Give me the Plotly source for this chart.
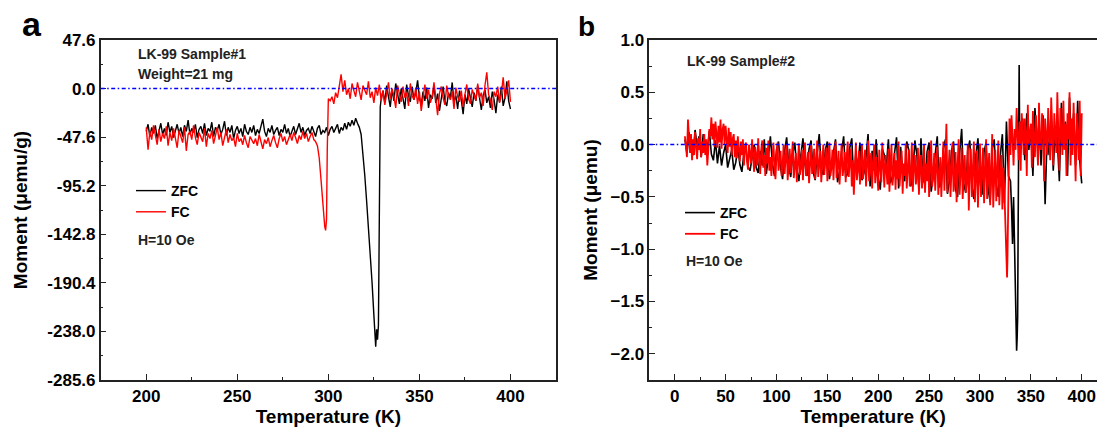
import plotly.graph_objects as go

# ---------------- DATA ----------------
# Panel a (Sample #1), moment in uemu/g
T_A_ZFC_LOW = list(range(200, 318))
M_A_ZFC_LOW = [
    -42, -35, -47, -38, -44, -36, -49, -40, -34, -45,
    -39, -46, -33, -43, -37, -48, -41, -35, -44, -38,
    -47, -36, -42, -31, -45, -39, -43, -35, -48, -40,
    -37, -44, -34, -46, -39, -42, -33, -47, -38, -41,
    -35, -45, -40, -32, -46, -38, -43, -36, -49, -41,
    -37, -44, -39, -47, -35, -42, -45, -38, -43, -36,
    -46, -40, -44, -37, -30, -42, -47, -39, -43, -36,
    -45, -41, -38, -46, -40, -43, -35, -44, -39, -47,
    -42, -37, -45, -40, -34, -43, -38, -46, -41, -39,
    -44, -37, -42, -47, -39, -36, -45, -41, -43, -38,
    -46, -40, -37, -43, -39, -35, -44, -38, -41, -34,
    -40, -33, -37, -31, -36, -29, -34, -38,
]
T_A_ZFC_DIP = [318, 319, 320, 321, 322, 323, 324, 325, 325.5, 326, 326.5, 327, 327.5, 328, 328.5]
M_A_ZFC_DIP = [-45, -62, -85, -110, -135, -160, -190, -222, -240, -253, -236, -246, -232, -110, -18]
T_A_ZFC_HIGH = list(range(329, 401))
M_A_ZFC_HIGH = [
    -10, -2, -14, 3, -8, -18, -1, -12, 5, -6,
    -15, 0, -9, -20, 4, -7, -13, 2, -11, -4,
    8, -9, -16, -3, -12, 1, -19, -6, -10, 3,
    -14, -5, -22, -8, 2, -12, -17, -4, -9, 6,
    -13, -7, -20, -2, -11, -25, -6, -15, 0, -9,
    -18, -4, -12, 3, -10, -21, -7, -1, -14, -8,
    -19, -3, -11, -24, -6, -13, 2, -17, -9, 7,
    -12, -20,
]

T_A_FC_LOW = list(range(200, 293))
M_A_FC_LOW = [
    -38, -60, -42, -50, -36, -47, -55, -40, -52, -44,
    -49, -37, -56, -43, -51, -39, -47, -58, -41, -46,
    -53, -38, -61, -45, -42, -50, -36, -48, -55, -43,
    -47, -52, -39, -57, -44, -49, -41, -54, -46, -38,
    -50, -43, -56, -47, -40, -53, -45, -51, -48, -57,
    -44, -52, -49, -55, -46, -53, -58, -47, -51, -54,
    -49, -56, -45, -52, -59, -50, -54, -48, -57, -51,
    -46, -53, -58, -49, -44, -52, -47, -55, -50, -45,
    -51, -43, -48, -54, -46, -50, -42, -49, -44, -52,
    -47, -43, -50,
]
T_A_FC_DIP = [293, 294, 295, 296, 297, 298, 298.5, 299, 299.4, 299.7, 300]
M_A_FC_DIP = [-52, -56, -68, -90, -118, -135, -139, -128, -60, -14, -10]
T_A_FC_HIGH = list(range(301, 401))
M_A_FC_HIGH = [
    -12, -8, -15, -4, -9, 2, 14, -3, 8, -6,
    0, -10, 5, -2, -8, 6, -4, -11, 3, -1,
    -6, 7, -9, -3, -14, 1, -7, 4, -12, -2,
    -16, -5, 6, -10, 0, -8, -19, 3, -6, -13,
    2, -9, -4, -17, 5, -7, -11, 1, -15, -3,
    -22, -6, 4, -10, -1, -14, -8, 6, -12, -26,
    -5, 2, -9, -16, 3, -7, -11, -3, -20, 1,
    -8, -13, -2, -18, -6, 4, -10, -15, -1, -7,
    -12, 5, -9, -4, -17, 3, 16, -6, -11, -21,
    -3, -8, 2, -14, -5, 11, -10, -2, 8, -13,
]

# Panel b (Sample #2), moment in uemu
T_B_ZFC_LOW = list(range(10, 330, 2))
M_B_ZFC_LOW = [
    0.05, -0.08, 0.12, 0.02, -0.10, 0.14, -0.02, 0.08, -0.12, 0.10,
    0.00, -0.05, 0.13, -0.09, -0.15, 0.04, -0.18, -0.01, -0.20, -0.08,
    0.00, -0.22, -0.12, -0.05, -0.24, -0.17, -0.02, -0.19, -0.26, -0.08,
    -0.04, -0.21, -0.25, -0.10, 0.00, -0.22, -0.27, -0.06, -0.20, 0.05,
    -0.28, -0.12, 0.08, -0.18, -0.30, -0.05, 0.03, -0.22, -0.33, -0.06,
    0.07, -0.20, -0.31, -0.09, 0.02, -0.24, -0.35, -0.10, 0.06, -0.19,
    -0.30, -0.04, 0.04, -0.26, -0.34, -0.08, 0.10, -0.22, -0.29, -0.05,
    0.03, -0.33, -0.20, -0.11, 0.05, -0.36, -0.25, -0.07, 0.08, -0.31,
    -0.28, -0.03, 0.06, -0.38, -0.09, -0.23, 0.02, -0.34, -0.27, -0.12,
    0.10, -0.40, -0.06, -0.25, 0.05, -0.32, -0.43, -0.04, -0.10, -0.21,
    0.05, -0.37, -0.30, -0.08, 0.07, -0.42, -0.02, -0.26, -0.35, 0.03,
    -0.05, -0.40, -0.28, 0.04, -0.10, -0.44, 0.06, -0.33, -0.38, -0.07,
    0.02, -0.45, -0.30, -0.09, 0.08, -0.41, -0.36, -0.04, 0.05, -0.47,
    -0.34, -0.06, 0.03, -0.43, -0.50, -0.08, 0.15, -0.37, -0.46, -0.05,
    0.04, -0.40, -0.52, -0.10, 0.06, -0.35, -0.48, -0.07, 0.02, -0.42,
    -0.55, -0.04, 0.05, -0.38, -0.50, -0.10, 0.10, -0.56, 0.22, -0.30,
]
T_B_ZFC_DIP = [330, 331, 332, 333, 334, 335, 336, 336.5, 337, 337.5, 338, 338.5, 339, 340]
M_B_ZFC_DIP = [-0.35, -0.60, -0.95, -0.50, -1.10, -1.60, -1.97, -1.85, -1.65, -0.80, 0.10, 0.76, 0.00, 0.20]
T_B_ZFC_HIGH = list(range(342, 401, 2))
M_B_ZFC_HIGH = [
    0.25, -0.15, 0.30, -0.05, 0.15, -0.30, 0.35, 0.00, 0.20, -0.20,
    0.28, -0.57, 0.10, -0.10, 0.33, -0.25, 0.18, 0.05, -0.35, 0.40,
    0.00, 0.22, -0.30, 0.45, -0.05, 0.30, -0.20, 0.42, -0.15, -0.37,
]

T_B_FC_LOW = list(range(10, 325))
M_B_FC_LOW = [
    0.08, -0.05, -0.12, 0.24, 0.02, -0.08, 0.10, -0.15, 0.05, -0.10,
    0.12, 0.00, -0.14, 0.06, -0.05, 0.15, -0.12, 0.03, -0.08, 0.10,
    -0.10, 0.05, -0.20, -0.05, 0.15, 0.08, 0.26, 0.05, 0.20, -0.02,
    0.22, 0.10, -0.03, 0.18, 0.02, 0.24, -0.04, 0.14, 0.20, 0.00,
    0.18, 0.05, -0.08, 0.16, -0.02, 0.12, -0.10, 0.06, 0.10, -0.12,
    0.04, -0.13, 0.08, -0.05, -0.16, 0.03, -0.10, 0.05, -0.20, -0.02,
    0.02, -0.15, -0.24, 0.00, -0.10, -0.18, 0.05, -0.08, -0.26, -0.02,
    -0.12, -0.20, 0.06, -0.15, -0.28, -0.05, 0.04, -0.22, -0.10, -0.30,
    -0.03, -0.18, 0.04, -0.25, -0.12, -0.30, -0.05, 0.02, -0.22, -0.33,
    -0.10, 0.02, -0.25, -0.15, -0.06, -0.30, -0.20, 0.00, -0.28, -0.12,
    0.00, -0.34, -0.18, -0.04, -0.27, -0.10, 0.03, -0.32, -0.20, -0.08,
    -0.36, -0.15, 0.01, -0.29, -0.22, -0.05, -0.34, -0.12, 0.02, -0.30,
    -0.18, -0.07, -0.37, -0.10, 0.00, -0.28, -0.20, -0.04, -0.33, -0.15,
    0.04, -0.31, -0.12, -0.06, -0.36, -0.20, 0.00, -0.29, -0.14, -0.03,
    -0.35, -0.18, 0.02, -0.30, -0.22, -0.05, -0.34, -0.10, 0.03, -0.32,
    -0.20, -0.06, -0.38, -0.14, 0.01, -0.30, -0.22, -0.07, -0.36, -0.12,
    0.03, -0.31, -0.20, -0.04, -0.40, -0.15, -0.48, -0.10, 0.02, -0.34,
    -0.24, -0.06, -0.38, -0.16, 0.00, -0.33, -0.22, -0.05, -0.40, -0.14,
    0.04, -0.35, -0.26, -0.08, -0.42, -0.18, 0.00, -0.37, -0.12, -0.28,
    -0.44, -0.05, -0.20, -0.36, 0.02, -0.30, -0.41, -0.10, -0.24, -0.38,
    -0.04, -0.45, -0.20, 0.00, -0.39, -0.28, -0.08, -0.43, -0.15, -0.33,
    0.03, -0.40, -0.22, -0.06, -0.47, -0.18, -0.30, 0.01, -0.42, -0.25,
    -0.05, -0.40, -0.30, 0.02, -0.45, -0.20, -0.10, -0.38, -0.26, -0.03,
    -0.48, -0.22, -0.10, -0.42, -0.30, 0.00, -0.46, -0.18, -0.35, -0.06,
    -0.50, -0.24, 0.04, -0.40, -0.30, -0.08, -0.44, -0.20, -0.02, -0.48,
    -0.32, -0.12, -0.50, -0.26, 0.03, -0.44, -0.20, 0.20, -0.46, -0.30,
    -0.05, -0.50, -0.24, 0.02, -0.45, -0.34, -0.07, -0.55, -0.20, 0.05,
    -0.48, -0.30, -0.03, -0.52, -0.22, -0.10, -0.46, -0.36, 0.00, -0.63,
    -0.25, -0.04, -0.50, -0.30, 0.03, -0.55, -0.20, -0.06, -0.60, -0.34,
    0.01, -0.50, -0.28, -0.03, -0.56, -0.22, 0.05, -0.52, -0.35, -0.08,
    -0.58, -0.26, 0.10, -0.60, -0.30, -0.05, -0.54, -0.20, 0.04, -0.58,
    -0.30, -0.10, -0.62, -0.22, -0.45,
]
T_B_FC_DIP = [325, 326, 326.6, 327, 327.5, 328, 329]
M_B_FC_DIP = [-0.70, -1.00, -1.27, -1.10, -0.60, -0.20, 0.25]
T_B_FC_HIGH = list(range(330, 401))
M_B_FC_HIGH = [
    -0.10, 0.28, 0.05, -0.20, 0.15, -0.05, 0.35, 0.10, -0.15, 0.22,
    -0.25, 0.30, 0.05, -0.10, 0.25, 0.10, -0.30, 0.38, 0.00, 0.15,
    0.20, -0.22, 0.32, 0.05, -0.12, 0.28, 0.10, -0.20, 0.40, 0.00,
    -0.05, 0.30, 0.12, -0.35, 0.25, 0.05, -0.10, 0.35, 0.15, -0.15,
    0.45, 0.00, -0.20, 0.30, 0.10, -0.08, 0.50, 0.05, -0.25, 0.35,
    0.10, -0.10, 0.42, -0.05, 0.20, -0.30, 0.30, 0.05, 0.50, -0.20,
    0.25, -0.10, 0.40, 0.00, -0.35, 0.30, 0.10, -0.15, 0.42, -0.30,
    0.30,
]

A_YTICKS = [-285.6, -238.0, -190.4, -142.8, -95.2, -47.6, 0.0, 47.6]
A_YTICKTEXT = ["-285.6", "-238.0", "-190.4", "-142.8", "-95.2", "-47.6", "0.0", "47.6"]
A_YMINOR = [-261.8, -214.2, -166.6, -119.0, -71.4, -23.8, 23.8]

# ---------------- FIGURE ----------------
W, H = 1097, 430
FONT = "Liberation Sans, Arial, sans-serif"


def px(xp):
    return xp / W


def py(yp):
    return 1 - yp / H


fig = go.Figure()

fig.add_trace(go.Scatter(x=T_A_ZFC_LOW + T_A_ZFC_DIP + T_A_ZFC_HIGH,
                         y=M_A_ZFC_LOW + M_A_ZFC_DIP + M_A_ZFC_HIGH,
                         mode="lines", name="ZFC", line=dict(color="#000000", width=1.4),
                         xaxis="x", yaxis="y", legend="legend"))
fig.add_trace(go.Scatter(x=T_A_FC_LOW + T_A_FC_DIP + T_A_FC_HIGH,
                         y=M_A_FC_LOW + M_A_FC_DIP + M_A_FC_HIGH,
                         mode="lines", name="FC", line=dict(color="#ff0000", width=1.4),
                         xaxis="x", yaxis="y", legend="legend"))
fig.add_trace(go.Scatter(x=T_B_ZFC_LOW + T_B_ZFC_DIP + T_B_ZFC_HIGH,
                         y=M_B_ZFC_LOW + M_B_ZFC_DIP + M_B_ZFC_HIGH,
                         mode="lines", name="ZFC", line=dict(color="#000000", width=1.6),
                         xaxis="x2", yaxis="y2", legend="legend2"))
fig.add_trace(go.Scatter(x=T_B_FC_LOW + T_B_FC_DIP + T_B_FC_HIGH,
                         y=M_B_FC_LOW + M_B_FC_DIP + M_B_FC_HIGH,
                         mode="lines", name="FC", line=dict(color="#ff0000", width=1.8),
                         xaxis="x2", yaxis="y2", legend="legend2"))

tickfont = dict(family=FONT, size=17, color="#000000", weight="bold")
titlefont = dict(family=FONT, size=19, color="#000000", weight="bold")
axis_common = dict(showgrid=False, zeroline=False, showline=True, linecolor="#222222",
                   linewidth=1.5, ticks="inside", ticklen=6, tickwidth=1.3, tickcolor="#222222",
                   tickfont=tickfont, automargin=False)
minor_common = dict(ticks="inside", ticklen=3, tickwidth=1.2, tickcolor="#222222")

ydom = [py(380), py(40)]

fig.update_layout(
    width=W, height=H,
    margin=dict(l=0, r=0, t=0, b=0),
    paper_bgcolor="white", plot_bgcolor="white",
    showlegend=True,
    xaxis=dict(axis_common, domain=[px(100.7), px(556)], range=[175, 425],
               tick0=0, dtick=50, mirror=True, anchor="y",
               minor=dict(minor_common, dtick=25),
               title=dict(text="Temperature (K)", font=titlefont, standoff=4)),
    yaxis=dict(axis_common, domain=ydom, range=[-285.6, 47.6],
               tickmode="array", tickvals=A_YTICKS, ticktext=A_YTICKTEXT, mirror=True, anchor="x",
               minor=dict(minor_common, tickmode="array", tickvals=A_YMINOR),
               title=dict(text="Moment (μemu/g)", font=titlefont, standoff=15)),
    xaxis2=dict(axis_common, domain=[px(649.3), 1.0], range=[-25, 415],
                tick0=0, dtick=50, mirror=True, anchor="y2",
                minor=dict(minor_common, dtick=25),
                title=dict(text="Temperature (K)", font=titlefont, standoff=4)),
    yaxis2=dict(axis_common, domain=ydom, range=[-2.25, 1.0],
                tick0=0, dtick=0.5, tickformat=".1f", mirror=False, anchor="x2",
                minor=dict(minor_common, dtick=0.25),
                title=dict(text="Moment (μemu)", font=titlefont, standoff=8)),
    legend=dict(x=px(131), y=py(175), xanchor="left", yanchor="top",
                bgcolor="rgba(0,0,0,0)", borderwidth=0, tracegroupgap=0,
                font=dict(family=FONT, size=14, color="#000000", weight="bold")),
    legend2=dict(x=px(680), y=py(197), xanchor="left", yanchor="top",
                 bgcolor="rgba(0,0,0,0)", borderwidth=0, tracegroupgap=0,
                 font=dict(family=FONT, size=14, color="#000000", weight="bold")),
)

# blue dotted zero reference lines
for xr, yr in (("x domain", "y"), ("x2 domain", "y2")):
    fig.add_shape(type="line", xref=xr, yref=yr, x0=0, x1=1, y0=0, y1=0,
                  line=dict(color="#0000ff", width=1.5, dash="4px,2.5px,1.5px,2.5px"), layer="above")

annfont = dict(family=FONT, size=14, color="#222222", weight="bold")
texts = [
    ("LK-99 Sample#1", 136, 54),
    ("Weight=21 mg", 136, 74),
    ("H=10 Oe", 136, 240),
    ("LK-99 Sample#2", 685, 61),
    ("H=10 Oe", 684, 261),
]
for t, xp, yp in texts:
    fig.add_annotation(text=t, x=px(xp), y=py(yp), xref="paper", yref="paper",
                       xanchor="left", yanchor="middle", showarrow=False, font=annfont)

fig.add_annotation(text="a", x=px(32), y=py(24), xref="paper", yref="paper",
                   xanchor="center", yanchor="middle", showarrow=False,
                   font=dict(family=FONT, size=34, color="#000000", weight="bold"))
fig.add_annotation(text="b", x=px(586), y=py(26), xref="paper", yref="paper",
                   xanchor="center", yanchor="middle", showarrow=False,
                   font=dict(family=FONT, size=28, color="#000000", weight="bold"))

fig.write_html("out.html", config={"displayModeBar": False},
               post_script="document.body.style.margin='0px';")
